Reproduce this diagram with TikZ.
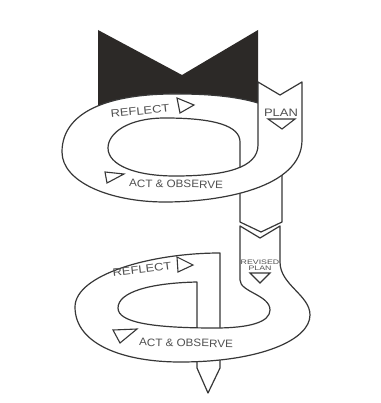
\documentclass[tikz,border=0pt]{standalone}
\usepackage{fontspec}
\setmainfont{Liberation Sans}
\usepackage{graphicx}
\definecolor{arline}{RGB}{55,55,55}
\definecolor{artext}{RGB}{80,80,80}
\definecolor{arback}{RGB}{44,41,39}
\begin{document}
\begin{tikzpicture}[x=1pt,y=-1pt,
  edge/.style={draw=arline,line width=1.2pt,line join=round},
  tri/.style={draw=arline,line width=1.1pt,line join=miter},
  lbl/.style={text=artext,inner sep=0pt,font=\fontsize{10.8}{12}\selectfont}]
  \useasboundingbox (0,0) rectangle (380,403);

  %% Cycle 1: dark back, ribbon and plan strip
  \fill[arback] (98,30) -- (182,75) -- (258,30) -- (258,140) -- (98,140) -- cycle;
  \fill[white] (258,103) .. controls (235,96) and (205,94) .. (180,94)
        .. controls (108,93) and (62,112) .. (62,152)
        .. controls (62,182) and (110,202) .. (165,202)
        .. controls (220,202) and (302,188) .. (302,140)
        -- (302,82) -- (280,95) -- (258,82) -- cycle;
  \fill[white] (240,150) -- (240,222) -- (261,232) -- (282,222) -- (282,150) -- cycle;
  %% back part: reflect band and strip going down
  \draw[edge] (108,148) .. controls (108,133) and (128,118) .. (165,118)
        .. controls (215,118) and (240,126) .. (240,142)
        -- (240,222) -- (261,232) -- (282,222) -- (282,150);
  %% front part: plan strip and act band
  \fill[white] (62,152) .. controls (62,182) and (110,202) .. (165,202)
        .. controls (220,202) and (302,188) .. (302,140)
        -- (302,82) -- (280,95) -- (258,82)
        -- (258,145) .. controls (258,168) and (225,176) .. (175,176)
        .. controls (135,176) and (108,165) .. (108,148) -- cycle;
  \draw[edge] (258,103) .. controls (235,96) and (205,94) .. (180,94)
        .. controls (108,93) and (62,112) .. (62,152)
        .. controls (62,182) and (110,202) .. (165,202)
        .. controls (220,202) and (302,188) .. (302,140)
        -- (302,82) -- (280,95) -- (258,82)
        -- (258,145) .. controls (258,168) and (225,176) .. (175,176)
        .. controls (135,176) and (108,165) .. (108,148);

  %% Cycle 2: revised plan strip and ribbon
  \fill[white] (220,253) .. controls (150,253) and (75,275) .. (75,307)
        .. controls (75,345) and (125,362) .. (180,362)
        .. controls (260,362) and (310,340) .. (310,315)
        .. controls (310,295) and (280,285) .. (280,262)
        -- (280,226) -- (260,238) -- (240,226) -- (240,253) -- cycle;
  \fill[white] (197,270) -- (197,368) -- (208,393) -- (220,368) -- (220,253) -- cycle;
  %% back part
  \draw[edge] (75,307) .. controls (75,275) and (150,253) .. (220,253)
        -- (220,368) -- (208,393) -- (197,368)
        -- (197,282) .. controls (150,283) and (118,292) .. (118,308);
  %% front part
  \fill[white] (75,307) .. controls (75,345) and (125,362) .. (180,362)
        .. controls (260,362) and (310,340) .. (310,315)
        .. controls (310,295) and (280,285) .. (280,262)
        -- (280,226) -- (260,238) -- (240,226)
        -- (240,280) .. controls (240,292) and (270,295) .. (270,310)
        .. controls (270,322) and (250,328) .. (215,328)
        .. controls (150,328) and (118,322) .. (118,308) -- cycle;
  \draw[edge] (75,307) .. controls (75,345) and (125,362) .. (180,362)
        .. controls (260,362) and (310,340) .. (310,315)
        .. controls (310,295) and (280,285) .. (280,262)
        -- (280,226) -- (260,238) -- (240,226)
        -- (240,280) .. controls (240,292) and (270,295) .. (270,310)
        .. controls (270,322) and (250,328) .. (215,328)
        .. controls (150,328) and (118,322) .. (118,308);

  %% direction marks
  \draw[tri] (177,98) -- (194,105) -- (180,113) -- cycle;
  \draw[tri] (105,172) -- (124,174) -- (107,183) -- cycle;
  \draw[tri] (268,119) -- (295,119) -- (282,129) -- cycle;
  \draw[tri] (177,257) -- (193,265) -- (178,272) -- cycle;
  \draw[tri] (113,330) -- (137,329) -- (120,343) -- cycle;
  \draw[tri] (250,273) -- (270,273) -- (260,283) -- cycle;

  %% labels
  \node[lbl,rotate=6] (reflectA) at (140,111)
        {\scalebox{1.2}[1]{REFLECT}};
  \node[lbl,rotate=-1] (actA) at (176,184)
        {\scalebox{1.08}[1]{ACT \& OBSERVE}};
  \node[lbl] (planA) at (281,113)
        {\scalebox{1.2}[1]{PLAN}};
  \node[lbl,rotate=7] (reflectB) at (142,269)
        {\scalebox{1.2}[1]{REFLECT}};
  \node[lbl,rotate=-1] (actB) at (186,343)
        {\scalebox{1.08}[1]{ACT \& OBSERVE}};
  \node[lbl,align=center,font=\fontsize{6.5}{6.5}\selectfont] (planB) at (260,265)
        {\scalebox{1.35}[1]{REVISED}\\\scalebox{1.35}[1]{PLAN}};
\end{tikzpicture}
\end{document}
